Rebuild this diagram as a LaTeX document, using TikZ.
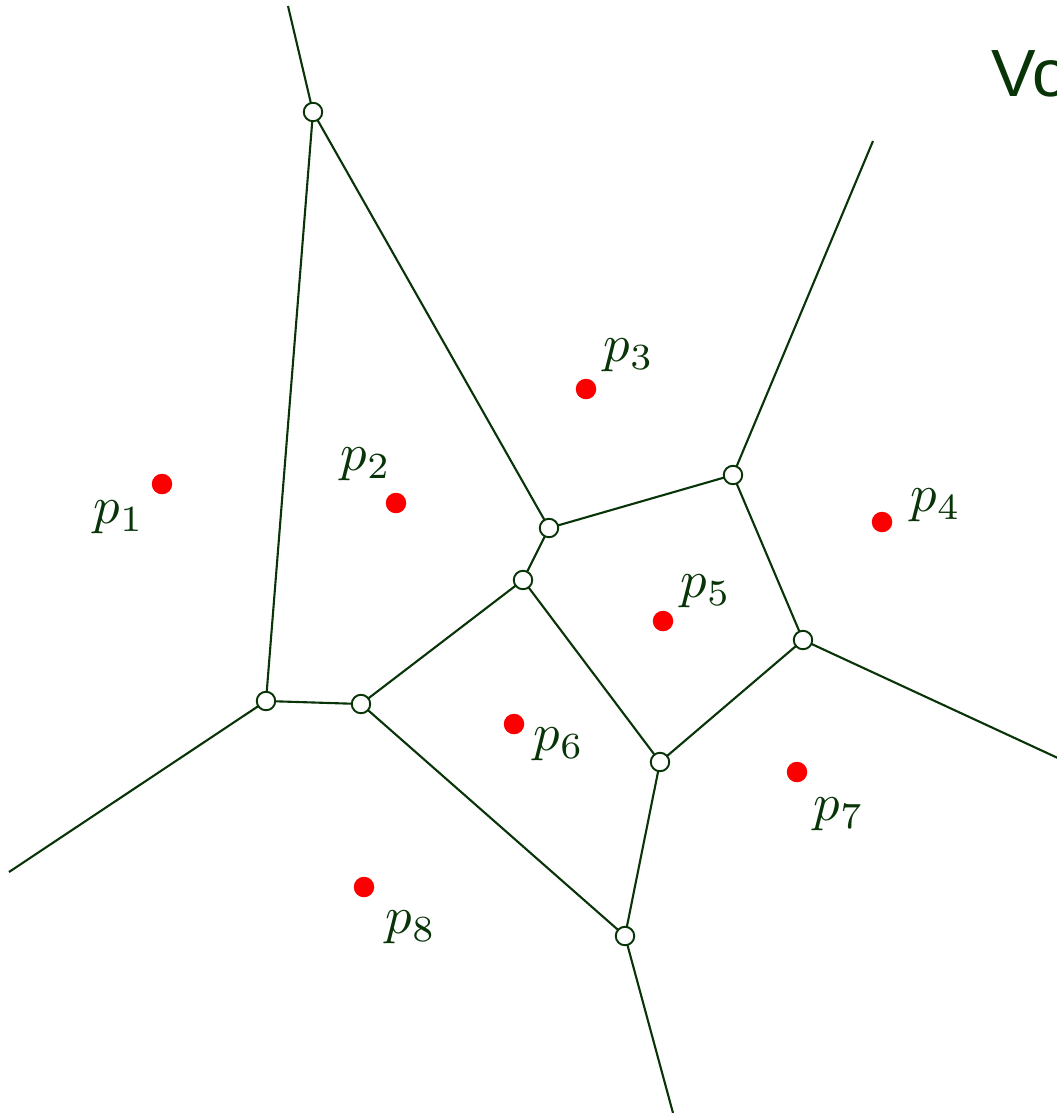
\documentclass[tikz,border=0pt]{standalone}
\usepackage{fontspec}
\newfontfamily\titlefont{Liberation Sans}
\usetikzlibrary{positioning}
\definecolor{vgreen}{RGB}{8,52,8}
\definecolor{vred}{RGB}{250,0,0}

\tikzset{
  edge/.style={vgreen, line width=1.2pt},
  vert/.style={circle, draw=vgreen, fill=white, line width=1.1pt, inner sep=0pt, minimum size=0.37cm},
  site/.style={circle, fill=vred, inner sep=0pt, minimum size=0.41cm},
  lbl/.style={text=vgreen, scale=3.0, inner sep=0pt}
}

\begin{document}
\begin{tikzpicture}[x=0.02cm, y=-0.02cm]
  \useasboundingbox (0,0) rectangle (1057,1113);
  \clip (0,0) rectangle (1057,1113);

  % title
  \node[anchor=base west, text=vgreen, inner sep=0pt] (title) at (991,96) {\titlefont\fontsize{38}{44}\selectfont Vo};

  % voronoi vertices
  \coordinate (c1) at (313,112);
  \coordinate (c2) at (549,528);
  \coordinate (c3) at (523,580);
  \coordinate (c4) at (733,475);
  \coordinate (c5) at (803,640);
  \coordinate (c6) at (660,762);
  \coordinate (c7) at (625,936);
  \coordinate (c8) at (361,704);
  \coordinate (c9) at (266,701);

  % unbounded ends
  \coordinate (e1) at (288,6);
  \coordinate (e4) at (873,141);
  \coordinate (e5) at (1060,759);
  \coordinate (e7) at (673,1113);
  \coordinate (e9) at (9,872);

  % edges
  \draw[edge] (e1) -- (c1) -- (c9) -- (e9);
  \draw[edge] (c1) -- (c2) -- (c4) -- (e4);
  \draw[edge] (c2) -- (c3) -- (c8) -- (c9);
  \draw[edge] (c3) -- (c6) -- (c5) -- (c4);
  \draw[edge] (c5) -- (e5);
  \draw[edge] (c6) -- (c7) -- (e7);
  \draw[edge] (c7) -- (c8);

  % vertex markers
  \foreach \i in {1,...,9}
    \node[vert] (v\i) at (c\i) {};

  % sites
  \node[site] (p1) at (162,484) {};
  \node[site] (p2) at (396,503) {};
  \node[site] (p3) at (586,389) {};
  \node[site] (p4) at (882,522) {};
  \node[site] (p5) at (663,621) {};
  \node[site] (p6) at (514,724) {};
  \node[site] (p7) at (797,772) {};
  \node[site] (p8) at (364,887) {};

  % labels
  \node[lbl] (l1) at (119,517) {$p_1$};
  \node[lbl] (l2) at (366,464) {$p_2$};
  \node[lbl] (l3) at (629,355) {$p_3$};
  \node[lbl] (l4) at (936,505) {$p_4$};
  \node[lbl] (l5) at (706,591) {$p_5$};
  \node[lbl] (l6) at (559,744) {$p_6$};
  \node[lbl] (l7) at (839,814) {$p_7$};
  \node[lbl] (l8) at (411,927) {$p_8$};
\end{tikzpicture}
\end{document}
